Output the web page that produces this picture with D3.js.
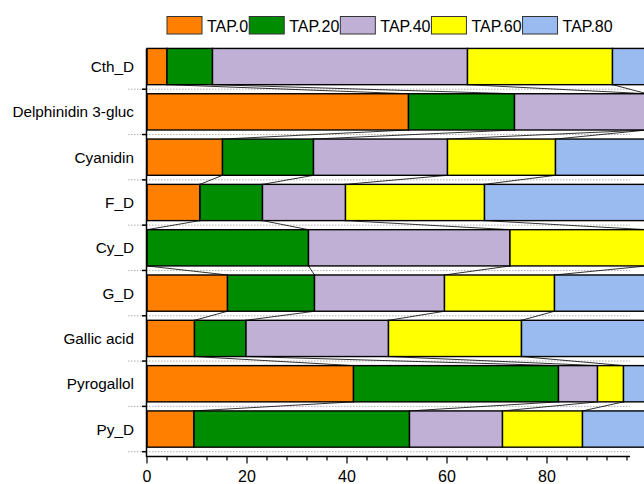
<!DOCTYPE html>
<html lang="en">
<head>
<meta charset="utf-8">
<title>TAP stacked bars</title>
<script src="https://d3js.org/d3.v7.min.js"></script>
<style>
  body { margin: 0; background: #fff; }
  text { font-family: "Liberation Sans", Arial, sans-serif; fill: #000; }
</style>
</head>
<body>
<script>
// categories, top to bottom
var categories = ["Cth_D", "Delphinidin 3-gluc", "Cyanidin", "F_D", "Cy_D", "G_D", "Gallic acid", "Pyrogallol", "Py_D"];
var seriesNames = ["TAP.0", "TAP.20", "TAP.40", "TAP.60", "TAP.80"];
var seriesColors = ["#ff8000", "#008c00", "#c0b0d6", "#ffff00", "#99bbf0"];

// percent share of each series, in category order
var tap0  = [4.0, 52.3, 15.1, 10.6, 0.0, 16.1, 9.5, 41.3, 9.4];
var tap20 = [9.1, 21.2, 18.2, 12.5, 32.3, 17.4, 10.3, 41.0, 43.1];
var tap40 = [51.0, 26.5, 26.8, 16.6, 40.3, 26.0, 28.5, 7.8, 18.6];
var tap60 = [29.0, 0.0, 21.6, 27.8, 27.4, 22.0, 26.6, 5.2, 16.0];
var tap80 = [6.9, 0.0, 18.3, 32.5, 0.0, 18.5, 25.1, 4.7, 12.9];

var xMajor = [0, 20, 40, 60, 80];
var xMinor = d3.range(0, 97, 4);

var width = 644, height = 484;
var svg = d3.select("body").append("svg")
    .attr("width", width)
    .attr("height", height);

var x = d3.scaleLinear().domain([0, 100]).range([147, 647]);
var y = d3.scaleBand().domain(categories).range([43.9, 451.7]).paddingInner(0).paddingOuter(0);
var inset = y.step() * 0.1;

// stacked data
var rows = categories.map(function(c, i) {
    return {cat: c, TAP0: tap0[i], TAP20: tap20[i], TAP40: tap40[i], TAP60: tap60[i], TAP80: tap80[i]};
});
var keys = ["TAP0", "TAP20", "TAP40", "TAP60", "TAP80"];
var stacked = d3.stack().keys(keys)(rows);

// dotted grid at category boundaries
var bounds = categories.map(function(c) { return y(c); }).slice(1).concat([y.range()[1]]);
svg.append("g").selectAll("line.grid")
    .data(bounds)
    .enter().append("line")
    .attr("x1", 128).attr("x2", x(96.6))
    .attr("y1", function(d) { return d; })
    .attr("y2", function(d) { return d; })
    .attr("stroke", "#b0b0b0")
    .attr("stroke-width", 1)
    .attr("stroke-dasharray", "1.5,1.5");

// connect lines between neighbouring bars
var conn = svg.append("g");
stacked.forEach(function(s) {
    for (var i = 0; i < categories.length - 1; i++) {
        var a = s[i][1], b = s[i + 1][1];
        conn.append("line")
            .attr("x1", x(a))
            .attr("y1", y(categories[i]) + y.step() - inset)
            .attr("x2", x(b))
            .attr("y2", y(categories[i + 1]) + inset)
            .attr("stroke", "#000")
            .attr("stroke-width", 0.8);
    }
});

// bars
stacked.forEach(function(s, k) {
    svg.append("g").selectAll("rect")
        .data(s.filter(function(d) { return d[1] - d[0] > 0; }))
        .enter().append("rect")
        .attr("x", function(d) { return x(d[0]); })
        .attr("width", function(d) { return x(d[1]) - x(d[0]); })
        .attr("y", function(d) { return y(d.data.cat) + inset; })
        .attr("height", y.step() - 2 * inset)
        .attr("fill", seriesColors[k])
        .attr("stroke", "#000")
        .attr("stroke-width", 1.4);
});

// y axis
svg.append("line")
    .attr("x1", 146.5).attr("x2", 146.5)
    .attr("y1", y.range()[0] + inset).attr("y2", 457)
    .attr("stroke", "#000").attr("stroke-width", 1.5);
svg.append("g").selectAll("line")
    .data(bounds)
    .enter().append("line")
    .attr("x1", 142).attr("x2", 147)
    .attr("y1", function(d) { return d; })
    .attr("y2", function(d) { return d; })
    .attr("stroke", "#000").attr("stroke-width", 1.5);
svg.append("g").selectAll("text")
    .data(categories)
    .enter().append("text")
    .attr("x", 134)
    .attr("y", function(d) { return y(d) + y.bandwidth() / 2; })
    .attr("dy", "0.36em")
    .attr("text-anchor", "end")
    .style("font-size", "15.3px")
    .text(function(d) { return d; });

// x axis
var axisY = 456.5;
svg.append("line")
    .attr("x1", 146).attr("x2", x(96.6))
    .attr("y1", axisY).attr("y2", axisY)
    .attr("stroke", "#000").attr("stroke-width", 1.5);
svg.append("g").selectAll("line")
    .data(xMinor)
    .enter().append("line")
    .attr("x1", function(d) { return x(d); })
    .attr("x2", function(d) { return x(d); })
    .attr("y1", axisY)
    .attr("y2", function(d) { return xMajor.indexOf(d) >= 0 ? axisY + 7 : axisY + 4; })
    .attr("stroke", "#000").attr("stroke-width", 1.2);
svg.append("g").selectAll("text")
    .data(xMajor)
    .enter().append("text")
    .attr("x", function(d) { return x(d); })
    .attr("y", 482)
    .attr("text-anchor", "middle")
    .style("font-size", "16px")
    .text(function(d) { return d; });

// legend
var lx = 167;
seriesNames.forEach(function(name, k) {
    svg.append("rect")
        .attr("x", lx).attr("y", 16.5)
        .attr("width", 35).attr("height", 17.5)
        .attr("fill", seriesColors[k])
        .attr("stroke", "#333").attr("stroke-width", 1);
    var t = svg.append("text")
        .attr("x", lx + 40).attr("y", 32)
        .style("font-size", "16px")
        .text(name);
    lx = lx + 40 + t.node().getComputedTextLength() + 1;
});
</script>
</body>
</html>
